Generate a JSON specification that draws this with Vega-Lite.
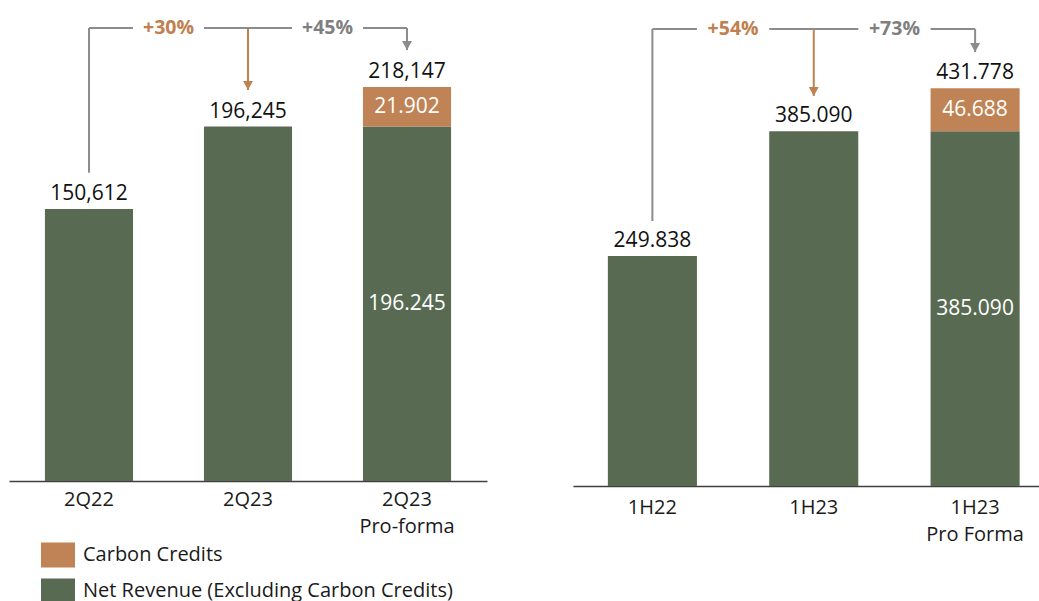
{
  "$schema": "https://vega.github.io/schema/vega-lite/v6.json",
  "padding": {"left": 9, "top": 10, "right": 0, "bottom": 0},
  "background": "white",
  "spacing": 86,
  "config": {
    "view": {"stroke": null},
    "font": "Open Sans",
    "text": {"font": "Open Sans"},
    "axisX": {"domainColor": "#404040", "domainWidth": 1.5, "ticks": false, "grid": false, "labelFont": "Open Sans", "labelFontSize": 20, "labelColor": "#1a1a1a", "labelAngle": 0, "labelLineHeight": 27, "labelPadding": 8}
  },
  "datasets": {
    "bars": [
      {"panel": "Q", "cat": "2Q22", "series": "Net Revenue (Excluding Carbon Credits)", "value": 150612},
      {"panel": "Q", "cat": "2Q23", "series": "Net Revenue (Excluding Carbon Credits)", "value": 196245},
      {"panel": "Q", "cat": "2Q23 Pro-forma", "series": "Net Revenue (Excluding Carbon Credits)", "value": 196245},
      {"panel": "Q", "cat": "2Q23 Pro-forma", "series": "Carbon Credits", "value": 21902},
      {"panel": "H", "cat": "1H22", "series": "Net Revenue (Excluding Carbon Credits)", "value": 249838},
      {"panel": "H", "cat": "1H23", "series": "Net Revenue (Excluding Carbon Credits)", "value": 385090},
      {"panel": "H", "cat": "1H23 Pro Forma", "series": "Net Revenue (Excluding Carbon Credits)", "value": 385090},
      {"panel": "H", "cat": "1H23 Pro Forma", "series": "Carbon Credits", "value": 46688}
    ],
    "vlines": [
      {"panel": "Q", "cat": "2Q22", "kind": "base", "y_from": 170700, "y_to": 250800},
      {"panel": "Q", "cat": "2Q23", "kind": "yoy", "y_from": 250800, "y_to": 216500},
      {"panel": "Q", "cat": "2Q23 Pro-forma", "kind": "pf", "y_from": 250800, "y_to": 238600},
      {"panel": "H", "cat": "1H22", "kind": "base", "y_from": 287700, "y_to": 496200},
      {"panel": "H", "cat": "1H23", "kind": "yoy", "y_from": 496200, "y_to": 423500},
      {"panel": "H", "cat": "1H23 Pro Forma", "kind": "pf", "y_from": 496200, "y_to": 471200}
    ],
    "hlines": [
      {"panel": "Q", "c_start": "2Q22", "c_end": "2Q23 Pro-forma", "y": 250800},
      {"panel": "H", "c_start": "1H22", "c_end": "1H23 Pro Forma", "y": 496200}
    ],
    "gaps": [
      {"panel": "Q", "c_start": "2Q22", "c_end": "2Q23", "y": 250800, "text": "+30%", "kind": "yoy"},
      {"panel": "Q", "c_start": "2Q23", "c_end": "2Q23 Pro-forma", "y": 250800, "text": "+45%", "kind": "pf"},
      {"panel": "H", "c_start": "1H22", "c_end": "1H23", "y": 496200, "text": "+54%", "kind": "yoy"},
      {"panel": "H", "c_start": "1H23", "c_end": "1H23 Pro Forma", "y": 496200, "text": "+73%", "kind": "pf"}
    ]
  },
  "hconcat": [
    {
      "width": 478,
      "height": 471,
      "layer": [
        {
          "data": {"name": "bars"},
          "transform": [
            {"filter": "datum.panel == 'Q'"},
            {"stack": "value", "groupby": ["cat"], "sort": [{"field": "series", "order": "descending"}], "as": ["v0", "v1"]}
          ],
          "mark": {"type": "bar"},
          "encoding": {
            "x": {"field": "cat", "type": "nominal", "title": null, "scale": {"paddingInner": 0.446, "paddingOuter": 0.226},
                  "axis": {"labelExpr": "indexof(datum.label, ' ') > 0 ? [substring(datum.label, 0, 4), substring(datum.label, 5)] : datum.label", "labelPadding": 8}},
            "y": {"field": "v0", "type": "quantitative", "scale": {"domain": [0, 260800], "nice": false}, "axis": null},
            "y2": {"field": "v1"},
            "color": {"field": "series", "type": "nominal",
                      "scale": {"domain": ["Carbon Credits", "Net Revenue (Excluding Carbon Credits)"], "range": ["#C08355", "#586B52"]},
                      "legend": {"orient": "none", "legendX": 32, "legendY": 528, "title": null, "symbolType": "M-1,-0.735H1V0.735H-1Z", "symbolSize": 1156, "symbolStrokeWidth": 0, "labelFont": "Open Sans", "labelFontSize": 20, "labelColor": "#1a1a1a", "labelOffset": 8, "rowPadding": 6, "labelLimit": 600}}
          }
        },
        {
          "data": {"name": "bars"},
          "transform": [
            {"filter": "datum.panel == 'Q'"},
            {"stack": "value", "groupby": ["cat"], "sort": [{"field": "series", "order": "descending"}], "as": ["v0", "v1"]},
            {"filter": "indexof(datum.cat, ' ') > 0"},
            {"calculate": "(datum.v0 + datum.v1) / 2", "as": "mid"},
            {"calculate": "replace(format(datum.value, ','), ',', '.')", "as": "lbl"}
          ],
          "mark": {"type": "text", "color": "white", "fontSize": 21, "baseline": "middle"},
          "encoding": {
            "x": {"field": "cat", "type": "nominal", "title": null},
            "y": {"field": "mid", "type": "quantitative", "axis": null},
            "text": {"field": "lbl"}
          }
        },
        {
          "data": {"name": "bars"},
          "transform": [
            {"filter": "datum.panel == 'Q'"},
            {"aggregate": [{"op": "sum", "field": "value", "as": "total"}], "groupby": ["cat"]}
          ],
          "mark": {"type": "text", "color": "#111111", "fontSize": 21, "baseline": "alphabetic", "dy": -9},
          "encoding": {
            "x": {"field": "cat", "type": "nominal", "title": null},
            "y": {"field": "total", "type": "quantitative", "axis": null},
            "text": {"field": "total", "format": ","}
          }
        },
        {
          "data": {"name": "vlines"},
          "transform": [{"filter": "datum.panel == 'Q'"}],
          "mark": {"type": "rule", "strokeWidth": 2},
          "encoding": {
            "x": {"field": "cat", "type": "nominal", "title": null, "bandPosition": 0.5},
            "y": {"field": "y_from", "type": "quantitative", "axis": null},
            "y2": {"field": "y_to"},
            "stroke": {"condition": {"test": "datum.kind == 'yoy'", "value": "#C0804F"}, "value": "#8C8C8C"}
          }
        },
        {
          "data": {"name": "hlines"},
          "transform": [{"filter": "datum.panel == 'Q'"}],
          "mark": {"type": "rule", "strokeWidth": 2, "color": "#8C8C8C"},
          "encoding": {
            "x": {"field": "c_start", "type": "nominal", "title": null, "bandPosition": 0.5},
            "x2": {"field": "c_end", "bandPosition": 0.5},
            "y": {"field": "y", "type": "quantitative", "axis": null}
          }
        },
        {
          "data": {"name": "gaps"},
          "transform": [{"filter": "datum.panel == 'Q'"}],
          "mark": {"type": "rule", "strokeWidth": 8, "color": "white"},
          "encoding": {
            "x": {"field": "c_start", "type": "nominal", "title": null, "bandPosition": 1},
            "x2": {"field": "c_end", "bandPosition": 0},
            "y": {"field": "y", "type": "quantitative", "axis": null}
          }
        },
        {
          "data": {"name": "vlines"},
          "transform": [{"filter": "datum.panel == 'Q' && datum.kind != 'base'"}],
          "mark": {"type": "point", "shape": "M-0.55,-1L0.55,-1L0,0Z", "size": 324, "filled": true, "opacity": 1, "strokeWidth": 0},
          "encoding": {
            "x": {"field": "cat", "type": "nominal", "title": null, "bandPosition": 0.5},
            "y": {"field": "y_to", "type": "quantitative", "axis": null},
            "fill": {"condition": {"test": "datum.kind == 'yoy'", "value": "#C0804F"}, "value": "#8C8C8C"}
          }
        },
        {
          "data": {"name": "gaps"},
          "transform": [{"filter": "datum.panel == 'Q'"}],
          "mark": {"type": "text", "fontSize": 19.5, "fontWeight": "bold", "baseline": "middle"},
          "encoding": {
            "x": {"field": "c_start", "type": "nominal", "title": null, "bandPosition": 1.403},
            "y": {"field": "y", "type": "quantitative", "axis": null},
            "text": {"field": "text"},
            "color": {"condition": {"test": "datum.kind == 'yoy'", "value": "#C0804F"}, "value": "#7F7F7F"}
          }
        }
      ]
    },
    {
      "width": 466,
      "height": 476,
      "layer": [
        {
          "data": {"name": "bars"},
          "transform": [
            {"filter": "datum.panel == 'H'"},
            {"stack": "value", "groupby": ["cat"], "sort": [{"field": "series", "order": "descending"}], "as": ["v0", "v1"]}
          ],
          "mark": {"type": "bar"},
          "encoding": {
            "x": {"field": "cat", "type": "nominal", "title": null, "scale": {"paddingInner": 0.448, "paddingOuter": 0.168, "align": 0.643},
                  "axis": {"labelExpr": "indexof(datum.label, ' ') > 0 ? [substring(datum.label, 0, 4), substring(datum.label, 5)] : datum.label", "labelPadding": 11}},
            "y": {"field": "v0", "type": "quantitative", "scale": {"domain": [0, 516800], "nice": false}, "axis": null},
            "y2": {"field": "v1"},
            "color": {"field": "series", "type": "nominal",
                      "scale": {"domain": ["Carbon Credits", "Net Revenue (Excluding Carbon Credits)"], "range": ["#C08355", "#586B52"]},
                      "legend": {"orient": "none", "legendX": 32, "legendY": 528, "title": null, "symbolType": "M-1,-0.735H1V0.735H-1Z", "symbolSize": 1156, "symbolStrokeWidth": 0, "labelFont": "Open Sans", "labelFontSize": 20, "labelColor": "#1a1a1a", "labelOffset": 8, "rowPadding": 6, "labelLimit": 600}}
          }
        },
        {
          "data": {"name": "bars"},
          "transform": [
            {"filter": "datum.panel == 'H'"},
            {"stack": "value", "groupby": ["cat"], "sort": [{"field": "series", "order": "descending"}], "as": ["v0", "v1"]},
            {"filter": "indexof(datum.cat, ' ') > 0"},
            {"calculate": "(datum.v0 + datum.v1) / 2", "as": "mid"},
            {"calculate": "replace(format(datum.value, ','), ',', '.')", "as": "lbl"}
          ],
          "mark": {"type": "text", "color": "white", "fontSize": 21, "baseline": "middle"},
          "encoding": {
            "x": {"field": "cat", "type": "nominal", "title": null},
            "y": {"field": "mid", "type": "quantitative", "axis": null},
            "text": {"field": "lbl"}
          }
        },
        {
          "data": {"name": "bars"},
          "transform": [
            {"filter": "datum.panel == 'H'"},
            {"aggregate": [{"op": "sum", "field": "value", "as": "total"}], "groupby": ["cat"]},
            {"calculate": "replace(format(datum.total, ','), ',', '.')", "as": "lbl"}
          ],
          "mark": {"type": "text", "color": "#111111", "fontSize": 21, "baseline": "alphabetic", "dy": -9},
          "encoding": {
            "x": {"field": "cat", "type": "nominal", "title": null},
            "y": {"field": "total", "type": "quantitative", "axis": null},
            "text": {"field": "lbl"}
          }
        },
        {
          "data": {"name": "vlines"},
          "transform": [{"filter": "datum.panel == 'H'"}],
          "mark": {"type": "rule", "strokeWidth": 2},
          "encoding": {
            "x": {"field": "cat", "type": "nominal", "title": null, "bandPosition": 0.5},
            "y": {"field": "y_from", "type": "quantitative", "axis": null},
            "y2": {"field": "y_to"},
            "stroke": {"condition": {"test": "datum.kind == 'yoy'", "value": "#C0804F"}, "value": "#8C8C8C"}
          }
        },
        {
          "data": {"name": "hlines"},
          "transform": [{"filter": "datum.panel == 'H'"}],
          "mark": {"type": "rule", "strokeWidth": 2, "color": "#8C8C8C"},
          "encoding": {
            "x": {"field": "c_start", "type": "nominal", "title": null, "bandPosition": 0.5},
            "x2": {"field": "c_end", "bandPosition": 0.5},
            "y": {"field": "y", "type": "quantitative", "axis": null}
          }
        },
        {
          "data": {"name": "gaps"},
          "transform": [{"filter": "datum.panel == 'H'"}],
          "mark": {"type": "rule", "strokeWidth": 8, "color": "white"},
          "encoding": {
            "x": {"field": "c_start", "type": "nominal", "title": null, "bandPosition": 1},
            "x2": {"field": "c_end", "bandPosition": 0},
            "y": {"field": "y", "type": "quantitative", "axis": null}
          }
        },
        {
          "data": {"name": "vlines"},
          "transform": [{"filter": "datum.panel == 'H' && datum.kind != 'base'"}],
          "mark": {"type": "point", "shape": "M-0.55,-1L0.55,-1L0,0Z", "size": 324, "filled": true, "opacity": 1, "strokeWidth": 0},
          "encoding": {
            "x": {"field": "cat", "type": "nominal", "title": null, "bandPosition": 0.5},
            "y": {"field": "y_to", "type": "quantitative", "axis": null},
            "fill": {"condition": {"test": "datum.kind == 'yoy'", "value": "#C0804F"}, "value": "#8C8C8C"}
          }
        },
        {
          "data": {"name": "gaps"},
          "transform": [{"filter": "datum.panel == 'H'"}],
          "mark": {"type": "text", "fontSize": 19.5, "fontWeight": "bold", "baseline": "middle"},
          "encoding": {
            "x": {"field": "c_start", "type": "nominal", "title": null, "bandPosition": 1.406},
            "y": {"field": "y", "type": "quantitative", "axis": null},
            "text": {"field": "text"},
            "color": {"condition": {"test": "datum.kind == 'yoy'", "value": "#C0804F"}, "value": "#7F7F7F"}
          }
        }
      ]
    }
  ]
}
